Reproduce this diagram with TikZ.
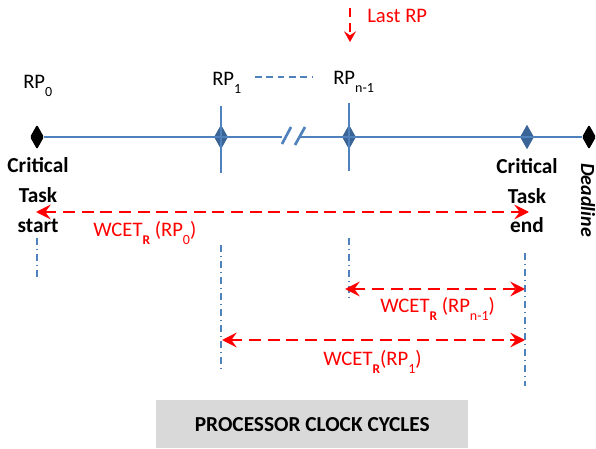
\documentclass[tikz,border=0pt]{standalone}
\usepackage{fontspec}
\setmainfont{Carlito}
\usetikzlibrary{shapes.geometric,arrows.meta}
\definecolor{tl}{HTML}{4F81BD}
\definecolor{dia}{HTML}{3A6396}
\definecolor{rd}{HTML}{FF0000}
\definecolor{boxgray}{HTML}{D9D9D9}
\newcommand{\lowsub}[2]{#1\raisebox{-6pt}{\fontsize{10.5}{10.5}\selectfont #2}}
\newcommand{\wsub}{\raisebox{-6pt}{\fontsize{10}{10}\selectfont\bfseries R}}
\begin{document}
\begin{tikzpicture}[x=0.75pt,y=-0.75pt,
  dmd/.style={diamond, inner sep=0pt, minimum width=10.5pt, minimum height=18.5pt},
  blackdmd/.style={dmd, fill=black, rounded corners=1pt},
  bluedmd/.style={dmd, fill=dia},
  tline/.style={draw=tl, line width=2pt},
  vline/.style={draw=tl, line width=1.5pt},
  ddot/.style={draw=tl, line width=1pt, dash pattern=on 5pt off 3pt on 1pt off 3pt},
  redarr/.style={draw=rd, line width=2pt, dash pattern=on 9pt off 5pt,
    {Stealth[length=11pt,width=11pt,inset=4pt]}-{Stealth[length=11pt,width=11pt,inset=4pt]}},
  lbl/.style={font=\fontsize{15.5}{18}\selectfont},
  blbl/.style={font=\fontsize{16}{18}\selectfont\bfseries},
  rlbl/.style={font=\fontsize{15.5}{18}\selectfont, text=rd},
  every node/.style={inner sep=0pt}]
\useasboundingbox (0,0) rectangle (596,449);

% diamonds on timeline
\node[blackdmd] (d0) at (37,137) {};
\node[bluedmd] (d1) at (221,137) {};
\node[bluedmd] (dn) at (349,137) {};
\node[bluedmd] (de) at (527,137) {};
\node[blackdmd] (dl) at (589,137) {};

% timeline with break
\coordinate (brkL) at (282,137);
\coordinate (brkR) at (300,137);
\draw[tline] (d0.east) -- (brkL);
\draw[tline] (brkR) -- (dl.west);
\coordinate (s1a) at (282,144); \coordinate (s1b) at (291,127);
\coordinate (s2a) at (295,145); \coordinate (s2b) at (305,127);
\draw[tline] (s1a) -- (s1b);
\draw[tline] (s2a) -- (s2b);

% vertical markers
\coordinate (v1t) at (221,106); \coordinate (v1b) at (221,173);
\coordinate (vnt) at (349,103); \coordinate (vnb) at (349,171);
\draw[vline] (v1t) -- (v1b);
\draw[vline] (vnt) -- (vnb);

% labels RP
\node[lbl, anchor=base west] (rp0) at (23,89) {\lowsub{RP}{0}};
\node[lbl, anchor=base west] (rp1) at (212,86) {\lowsub{RP}{1}};
\node[lbl, anchor=base west] (rpn) at (333,85) {\lowsub{RP}{n-1}};
\coordinate (dsa) at (255,77); \coordinate (dsb) at (312,77);
\draw[draw=tl, line width=1.2pt, dash pattern=on 5pt off 3.5pt] (dsa) -- (dsb);

% Last RP
\node[rlbl, anchor=base west] (last) at (367,23) {Last RP};
\coordinate (la1) at (350,8); \coordinate (la2) at (350,42);
\draw[draw=rd, line width=1.5pt, dash pattern=on 7pt off 4pt, -{Stealth[length=8pt,width=9pt,inset=3pt]}] (la1) -- (la2);

% Critical task start / end
\node[blbl, anchor=base] (cs1) at (38,173) {Critical};
\node[blbl, anchor=base] (cs2) at (38,203) {Task};
\node[blbl, anchor=base] (cs3) at (38,232) {start};
\node[blbl, anchor=base] (ce1) at (527,174) {Critical};
\node[blbl, anchor=base] (ce2) at (527,204) {Task};
\node[blbl, anchor=base] (ce3) at (527,233) {end};

% Deadline
\node[font=\fontsize{15}{18}\selectfont\bfseries\itshape, rotate=-90, anchor=base] (dead) at (581,200) {Deadline};

% dash-dot verticals
\coordinate (p0t) at (37,238); \coordinate (p0b) at (37,278);
\coordinate (p1t) at (221,245); \coordinate (p1b) at (221,372);
\coordinate (pnt) at (349,238); \coordinate (pnb) at (349,300);
\coordinate (pet) at (525,253); \coordinate (peb) at (525,386);
\draw[ddot] (p0t) -- (p0b);
\draw[ddot] (p1t) -- (p1b);
\draw[ddot] (pnt) -- (pnb);
\draw[ddot] (pet) -- (peb);

% WCET arrows
\coordinate (a0l) at (36,212); \coordinate (a0r) at (529,212);
\draw[redarr] (a0l) -- (a0r);
\node[rlbl, anchor=base west] (w0) at (93,236) {WCET\wsub{} (\lowsub{RP}{0})};

\coordinate (anl) at (345,289); \coordinate (anr) at (525,289);
\draw[redarr] (anl) -- (anr);
\node[rlbl, anchor=base west] (wn) at (380,312) {WCET\wsub{} (\lowsub{RP}{n-1})};

\coordinate (a1l) at (222,340); \coordinate (a1r) at (525,340);
\draw[redarr] (a1l) -- (a1r);
\node[rlbl, anchor=base west] (w1) at (323,365) {WCET\wsub(\lowsub{RP}{1})};

% bottom box
\node[fill=boxgray, minimum width=234pt, minimum height=36pt, anchor=north west] (box) at (156,400) {};
\node[font=\fontsize{16}{18}\selectfont\bfseries] (boxt) at (box.center) {PROCESSOR CLOCK CYCLES};
\end{tikzpicture}
\end{document}
